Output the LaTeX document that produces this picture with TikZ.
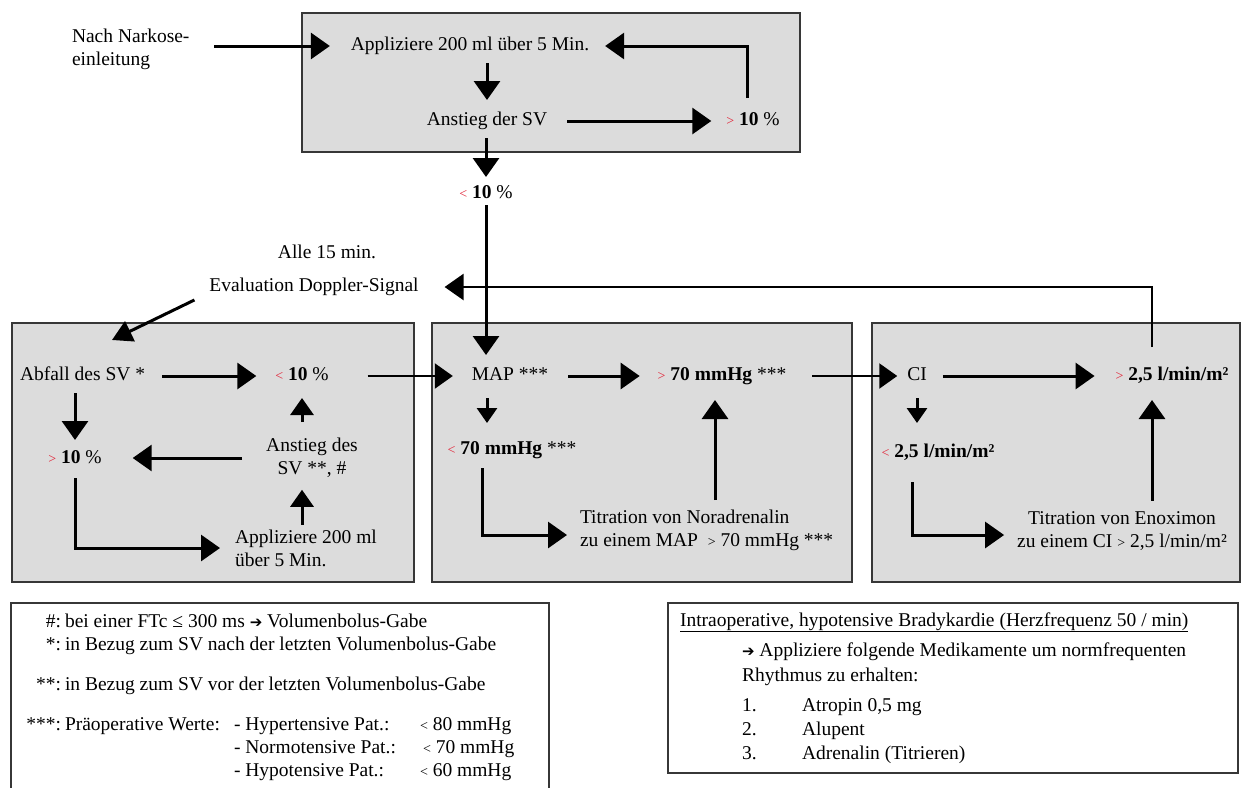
\documentclass[tikz,border=0pt]{standalone}
\usepackage{fontspec}
\setmainfont{Liberation Serif}
\newfontfamily\djv{DejaVu Sans}
\usetikzlibrary{arrows.meta,calc}
\definecolor{panelfill}{RGB}{220,220,220}
\definecolor{paneledge}{RGB}{55,55,55}
\definecolor{signred}{RGB}{225,35,55}
\newcommand{\GT}{{\color{signred}\fontsize{14}{14}\selectfont >}}
\newcommand{\LT}{{\color{signred}\fontsize{14}{14}\selectfont <}}
\newcommand{\SGT}{{\fontsize{14}{14}\selectfont >}}
\newcommand{\SLT}{{\fontsize{14}{14}\selectfont <}}
\newcommand{\harr}{{\djv\fontsize{15}{15}\selectfont ➔}}
\begin{document}
\begin{tikzpicture}[x=1pt,y=-1pt,
  every node/.style={font=\fontsize{19.5}{23}\selectfont, inner sep=0pt, outer sep=0pt},
  one/.style={text height=13pt, text depth=5pt},
  lg/.style={one, anchor=west},
  lk/.style={one, anchor=east},
  panel/.style={draw=paneledge, line width=1.4pt, fill=panelfill},
  legendbox/.style={draw=paneledge, line width=1.4pt, fill=white},
  arr/.style={line width=3pt, -{Triangle[length=19pt,width=26pt]}},
  thinarr/.style={line width=2.2pt, -{Triangle[length=18pt,width=25pt]}},
  shortarr/.style={line width=3pt, -{Triangle[length=15pt,width=20pt]}},
]
\useasboundingbox (0,0) rectangle (1241,787);
\fill[white] (0,0) rectangle (1241,787);

% panels
\draw[panel] (302,13) rectangle (800,152);
\draw[panel] (12,323) rectangle (414,582);
\draw[panel] (432,323) rectangle (852,582);
\draw[panel] (872,323) rectangle (1240,582);
\draw[legendbox] (11,603) rectangle (549,800);
\draw[legendbox] (668,603) rectangle (1238,773);

% top part
\node[anchor=west, align=left] (narkose) at (72,49) {Nach Narkose-\\einleitung};
\node[one] (appl) at (470,46) {Appliziere 200 ml über 5 Min.};
\node[one] (anst) at (487,121) {Anstieg der SV};
\node[one] (gt10a) at (753,121) {\GT\ \textbf{10} \%};
\node[one] (lt10a) at (486,194) {\LT\ \textbf{10} \%};
\node[one] (alle) at (327,254) {Alle 15 min.};
\node[one] (eval) at (314,287) {Evaluation Doppler-Signal};
\coordinate (evtip) at (112,340);

% left panel
\node[lg] (abfall) at (20,376) {Abfall des SV *};
\node[one] (lt10b) at (302,376) {\LT\ \textbf{10} \%};
\node[one] (gt10b) at (75,459) {\GT\ \textbf{10} \%};
\node[align=center] (anstL) at (312,458) {Anstieg des\\SV **, \#};
\node[anchor=west, align=left] (applL) at (235,548) {Appliziere 200 ml\\über 5 Min.};

% middle panel
\node[one] (map) at (510,376) {MAP ***};
\node[one] (gt70) at (722,376) {\GT\ \textbf{70 mmHg} ***};
\node[one] (lt70) at (512,450) {\LT\ \textbf{70 mmHg} ***};
\node[anchor=west, align=left] (nora) at (580,530.5) {Titration von Noradrenalin\\zu einem MAP\ \ \SGT\ 70 mmHg ***};

% right panel
\node[one] (ci) at (917,376) {CI};
\node[one] (gt25) at (1172,376) {\GT\ \textbf{2,5 l/min/m²}};
\node[one] (lt25) at (938,453) {\LT\ \textbf{2,5 l/min/m²}};
\node[align=center] (enox) at (1122,531) {Titration von Enoximon\\zu einem CI \SGT\ 2,5 l/min/m²};

% connectors top
\draw[arr, shorten <=25pt, shorten >=21pt] (narkose.east |- appl.west) -- (appl.west);
\draw[arr, shorten <=8pt, shorten >=12pt] (anst.north |- appl.south) -- (anst.north);
\draw[arr, shorten <=20pt, shorten >=15pt] (anst.east) -- (gt10a.west);
\draw[arr, shorten <=14pt, shorten >=16pt] ([xshift=-6pt]gt10a.north) |- (appl.east);
\draw[arr, shorten <=8pt, shorten >=8pt] (lt10a.north |- anst.south) -- (lt10a.north);
\draw[arr, shorten <=2pt, shorten >=12pt] (lt10a.south) -- (lt10a.south |- map.north);
\draw[arr, line width=2.6pt, shorten <=20pt, shorten >=26pt] ([xshift=-20pt]gt25.north) |- (eval.east);
\draw[arr, -{Triangle[length=20pt,width=22pt]}] ([xshift=-15pt,yshift=-4pt]eval.south west) -- (evtip);

% connectors left panel
\draw[arr, shorten <=17pt, shorten >=19pt] (abfall.east) -- (lt10b.west);
\draw[thinarr, shorten <=39pt, shorten >=19pt] (lt10b.east) -- (map.west);
\draw[arr, shorten <=8pt, shorten >=10pt] (gt10b.north |- abfall.south) -- (gt10b.north);
\draw[arr, shorten <=24pt, shorten >=31pt] (anstL.west) -- (anstL.west -| gt10b.east);
\draw[arr, -{Triangle[length=17pt,width=23pt]}, shorten <=16pt, shorten >=13pt] (lt10b.south |- anstL.north) -- (lt10b.south);
\draw[arr, -{Triangle[length=17pt,width=23pt]}, shorten <=5pt, shorten >=12pt] (lt10b.south |- applL.north) -- (lt10b.south |- anstL.south);
\draw[arr, shorten <=10pt, shorten >=15pt] (gt10b.south) |- (applL.west);

% connectors middle panel
\draw[arr, shorten <=20pt, shorten >=18pt] (map.east) -- (gt70.west);
\draw[thinarr, shorten <=26pt, shorten >=10pt] (gt70.east) -- (ci.west);
\draw[shortarr, shorten <=13pt, shorten >=18pt] ([xshift=-23pt]map.south) -- ([xshift=-23pt]map.south |- lt70.north);
\draw[arr, shorten <=9pt, shorten >=13pt] ([xshift=-30pt]lt70.south) |- ([yshift=-4.5pt]nora.west);
\draw[arr, shorten <=10pt, shorten >=15pt] ([xshift=-7pt]gt70.south |- nora.north) -- ([xshift=-7pt]gt70.south);

% connectors right panel
\draw[arr, shorten <=16pt, shorten >=21pt] (ci.east) -- (gt25.west);
\draw[shortarr, shorten <=13pt, shorten >=21pt] (ci.south) -- (ci.south |- lt25.north);
\draw[arr, shorten <=20pt, shorten >=13pt] ([xshift=-26pt]lt25.south) |- ([yshift=-4pt]enox.west);
\draw[arr, shorten <=11pt, shorten >=15pt] ([xshift=-20pt]gt25.south |- enox.north) -- ([xshift=-20pt]gt25.south);

% left legend
\node[lk] (k1) at (61,623) {\#:};
\node[lg] (t1) at (65,623) {bei einer FTc ≤ 300 ms \harr\ Volumenbolus-Gabe};
\node[lk] (k2) at (61,646) {*:};
\node[lg] (t2) at (65,646) {in Bezug zum SV nach der letzten Volumenbolus-Gabe};
\node[lk] (k3) at (61,686) {**:};
\node[lg] (t3) at (65,686) {in Bezug zum SV vor der letzten Volumenbolus-Gabe};
\node[lk] (k4) at (61,726) {***:};
\node[lg] (t4) at (65,726) {Präoperative Werte:};
\node[lg] (h1) at (234,726) {- Hypertensive Pat.:};
\node[lg] (v1) at (420,726) {\SLT\ 80 mmHg};
\node[lg] (h2) at (234,749) {- Normotensive Pat.:};
\node[lg] (v2) at (423,749) {\SLT\ 70 mmHg};
\node[lg] (h3) at (234,772) {- Hypotensive Pat.:};
\node[lg] (v3) at (420,772) {\SLT\ 60 mmHg};

% right legend
\node[lg] (r0) at (680,622) {\underline{Intraoperative, hypotensive Bradykardie (Herzfrequenz 50 / min)}};
\node[lg] (r1) at (742,652) {\harr\ Appliziere folgende Medikamente um normfrequenten};
\node[lg] (r2) at (742,677) {Rhythmus zu erhalten:};
\node[lg] (n1) at (742,707) {1.};
\node[lg] (m1) at (802,707) {Atropin 0,5 mg};
\node[lg] (n2) at (742,731) {2.};
\node[lg] (m2) at (802,731) {Alupent};
\node[lg] (n3) at (742,755) {3.};
\node[lg] (m3) at (802,755) {Adrenalin (Titrieren)};
\end{tikzpicture}
\end{document}
